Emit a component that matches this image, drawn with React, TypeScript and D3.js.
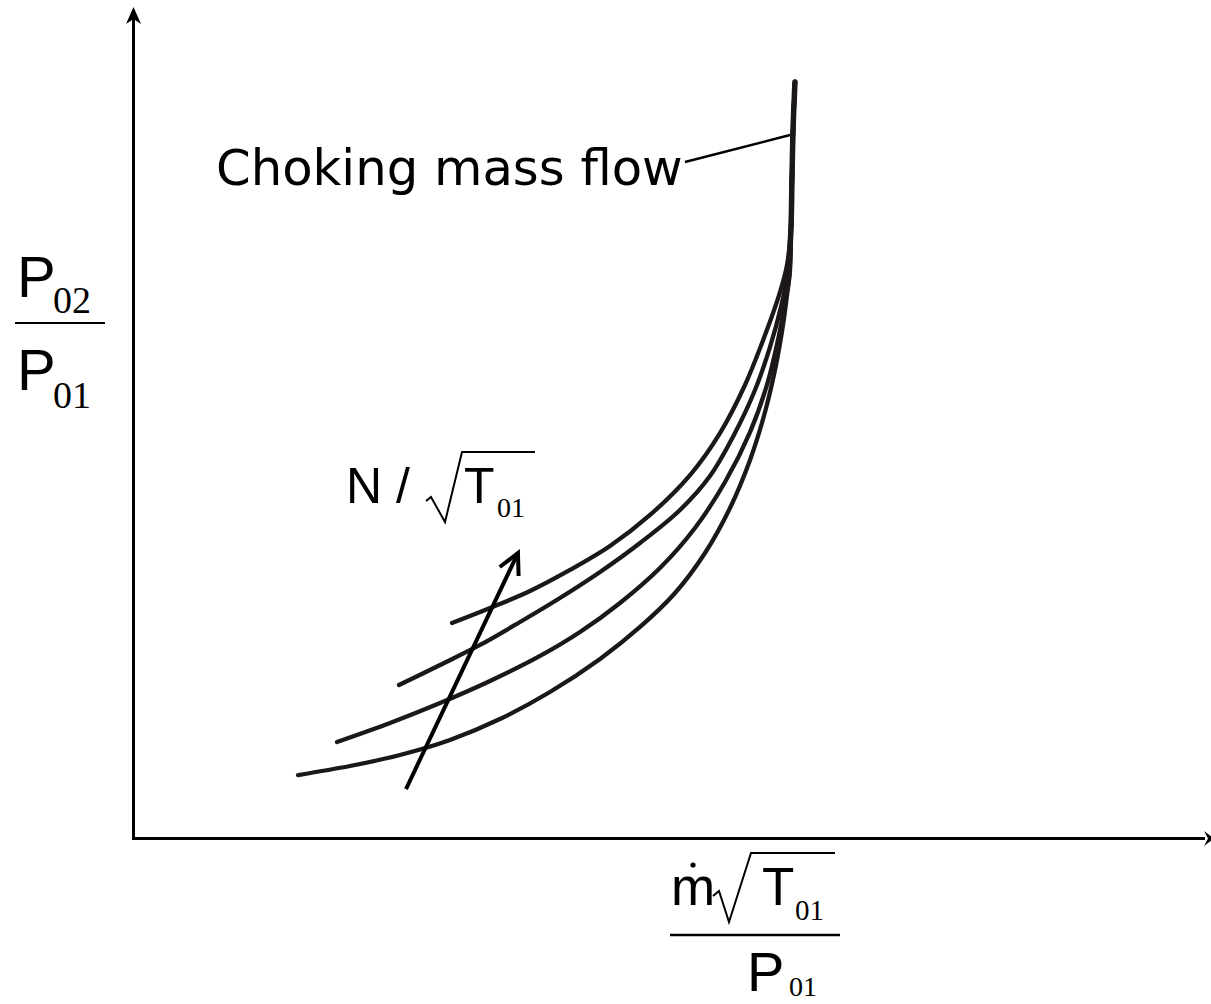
import React from "react";
import * as d3 from "d3";

// Compressor characteristic (qualitative), values in % of axis span
const flowA = [29.56, 33.09, 36.8, 40.51, 44.22, 47.94, 51.65, 54.43, 56.75, 58.61, 60.0, 60.65];
const ratioA = [26.01, 27.82, 29.87, 32.41, 35.3, 39.05, 43.87, 48.94, 54.74, 60.77, 65.96, 69.22];

const flowB = [24.64, 28.45, 32.16, 35.87, 39.58, 43.3, 47.01, 50.72, 53.5, 55.82, 57.68, 59.07, 60.09, 60.74];
const ratioB = [18.53, 20.94, 23.36, 26.13, 29.03, 32.17, 35.67, 39.65, 43.75, 48.94, 54.13, 59.32, 64.15, 68.38];

const flowC = [18.89, 23.81, 28.45, 33.09, 37.73, 41.44, 45.15, 48.86, 52.11, 54.9, 57.22, 58.79, 59.91, 60.46, 60.84];
const ratioC = [11.65, 13.94, 16.35, 19.01, 22.03, 24.92, 28.43, 32.65, 37.48, 43.03, 49.06, 54.74, 60.77, 64.63, 67.65];

const flowD = [15.27, 20.09, 24.73, 29.37, 34.01, 38.65, 43.3, 47.01, 50.26, 53.04, 55.36, 57.22, 58.61, 59.63, 60.28, 60.65, 60.93];
const ratioD = [7.66, 8.75, 10.08, 11.89, 14.42, 17.68, 21.67, 25.53, 29.63, 34.46, 39.89, 45.69, 51.48, 57.15, 61.98, 65.6, 68.62];

// choking (vertical) part shared by all speed lines
const chokeFlow = [61.02, 61.11, 61.21, 61.39];
const chokeRatio = [73.69, 79.48, 85.52, 91.31];
const chokeStart: [number, number] = [60.84, 69.58];

// speed-increase arrow (tail -> tip)
const speedArrowFlow = [25.29, 35.68];
const speedArrowRatio = [5.97, 34.46];

// choking annotation leader (text end -> choke line)
const leaderFlow = [51.18, 60.93];
const leaderRatio = [81.65, 84.91];

const chokeLabel = "Choking mass flow";

const W = 1211;
const H = 1004;

export default function App() {
  const x = d3.scaleLinear().domain([0, 100]).range([133.5, 1211]);
  const y = d3.scaleLinear().domain([0, 100]).range([838.5, 10]);

  const line = d3
    .line<[number, number]>()
    .x((d) => x(d[0]))
    .y((d) => y(d[1]))
    .curve(d3.curveCatmullRom.alpha(0.5));

  const zip = (a: number[], b: number[]) => a.map((v, i) => [v, b[i]] as [number, number]);
  const withChoke = (a: number[], b: number[]) => zip(a, b).concat(zip(chokeFlow, chokeRatio));

  const curves = [
    withChoke(flowA, ratioA),
    withChoke(flowB, ratioB),
    withChoke(flowC, ratioC),
    withChoke(flowD, ratioD),
  ];

  // speed arrow
  const ax0 = x(speedArrowFlow[0]);
  const ay0 = y(speedArrowRatio[0]);
  const ax1 = x(speedArrowFlow[1]);
  const ay1 = y(speedArrowRatio[1]);
  const ang = Math.atan2(ay0 - ay1, ax0 - ax1);
  const armLen = 23;
  const spread = (27 * Math.PI) / 180;
  const arm1 = [ax1 + armLen * Math.cos(ang + spread), ay1 + armLen * Math.sin(ang + spread)];
  const arm2 = [ax1 + armLen * Math.cos(ang - spread), ay1 + armLen * Math.sin(ang - spread)];

  const ink = "#1c1819";
  const x0 = x(0);
  const y0 = y(0);

  return (
    <svg
      width={W}
      height={H}
      style={{ position: "absolute", left: 0, top: 0, display: "block", background: "#fff" }}
    >
      {/* axes */}
      <line x1={x0} y1={y0 + 1.5} x2={x0} y2={18} stroke="#000" strokeWidth={3} />
      <path d={`M${x0},7 L${x0 - 7.5},24 L${x0},19 L${x0 + 7.5},24 Z`} fill="#000" />
      <line x1={x0 - 1.5} y1={y0} x2={1205} y2={y0} stroke="#000" strokeWidth={3} />
      <path d={`M1214,${y0} L1204,${y0 - 7.5} L1208,${y0} L1204,${y0 + 7.5} Z`} fill="#000" />

      {/* speed lines */}
      {curves.map((c, i) => (
        <path key={i} d={line(c) || ""} fill="none" stroke={ink} strokeWidth={4.3} strokeLinecap="round" />
      ))}
      <path
        d={line([chokeStart].concat(zip(chokeFlow, chokeRatio))) || ""}
        fill="none"
        stroke={ink}
        strokeWidth={5.5}
        strokeLinecap="round"
      />

      {/* choking annotation */}
      <line
        x1={x(leaderFlow[0])}
        y1={y(leaderRatio[0])}
        x2={x(leaderFlow[1])}
        y2={y(leaderRatio[1])}
        stroke="#000"
        strokeWidth={2.5}
      />
      <text x={216} y={185} fontFamily="DejaVu Sans, Verdana, sans-serif" fontSize={49.7} fill="#000">
        {chokeLabel}
      </text>

      {/* speed arrow */}
      <line x1={ax0} y1={ay0} x2={ax1} y2={ay1} stroke="#000" strokeWidth={4} />
      <polyline
        points={`${arm1[0]},${arm1[1]} ${ax1},${ay1} ${arm2[0]},${arm2[1]}`}
        fill="none"
        stroke="#000"
        strokeWidth={4}
        strokeLinejoin="miter"
      />

      {/* N / sqrt(T01) label */}
      <text x={346} y={503} fontFamily="Liberation Sans, Arial, sans-serif" fontSize={50} fill="#000">
        N /
      </text>
      <path d="M426,501 L431,497 L445,522 L462,452 L535,452" fill="none" stroke="#000" strokeWidth={2} />
      <text x={464} y={503} fontFamily="Liberation Sans, Arial, sans-serif" fontSize={50} fill="#000">
        T
      </text>
      <text x={497} y={517} fontFamily="Liberation Serif, Times New Roman, serif" fontSize={28} fill="#000">
        01
      </text>

      {/* y label P02 / P01 */}
      <text x={17} y={297} fontFamily="Liberation Sans, Arial, sans-serif" fontSize={58} fill="#000">
        P
      </text>
      <text x={53} y={313} fontFamily="Liberation Serif, Times New Roman, serif" fontSize={38} fill="#000">
        02
      </text>
      <line x1={15} y1={323} x2={105} y2={323} stroke="#000" strokeWidth={2} />
      <text x={17} y={390} fontFamily="Liberation Sans, Arial, sans-serif" fontSize={58} fill="#000">
        P
      </text>
      <text x={53} y={408} fontFamily="Liberation Serif, Times New Roman, serif" fontSize={38} fill="#000">
        01
      </text>

      {/* x label m_dot sqrt(T01) / P01 */}
      <text x={671} y={905} fontFamily="Liberation Sans, Arial, sans-serif" fontSize={53} fill="#000">
        m
      </text>
      <circle cx={693} cy={865} r={2.6} fill="#000" />
      <path d="M713,896 L719,891 L729,922 L751,853 L835,853" fill="none" stroke="#000" strokeWidth={2} />
      <text x={762} y={905} fontFamily="Liberation Sans, Arial, sans-serif" fontSize={53} fill="#000">
        T
      </text>
      <text x={795} y={920} fontFamily="Liberation Serif, Times New Roman, serif" fontSize={29} fill="#000">
        01
      </text>
      <line x1={670} y1={935} x2={840} y2={935} stroke="#000" strokeWidth={2.5} />
      <text x={747} y={991} fontFamily="Liberation Sans, Arial, sans-serif" fontSize={56} fill="#000">
        P
      </text>
      <text x={789} y={996} fontFamily="Liberation Serif, Times New Roman, serif" fontSize={28} fill="#000">
        01
      </text>
    </svg>
  );
}
